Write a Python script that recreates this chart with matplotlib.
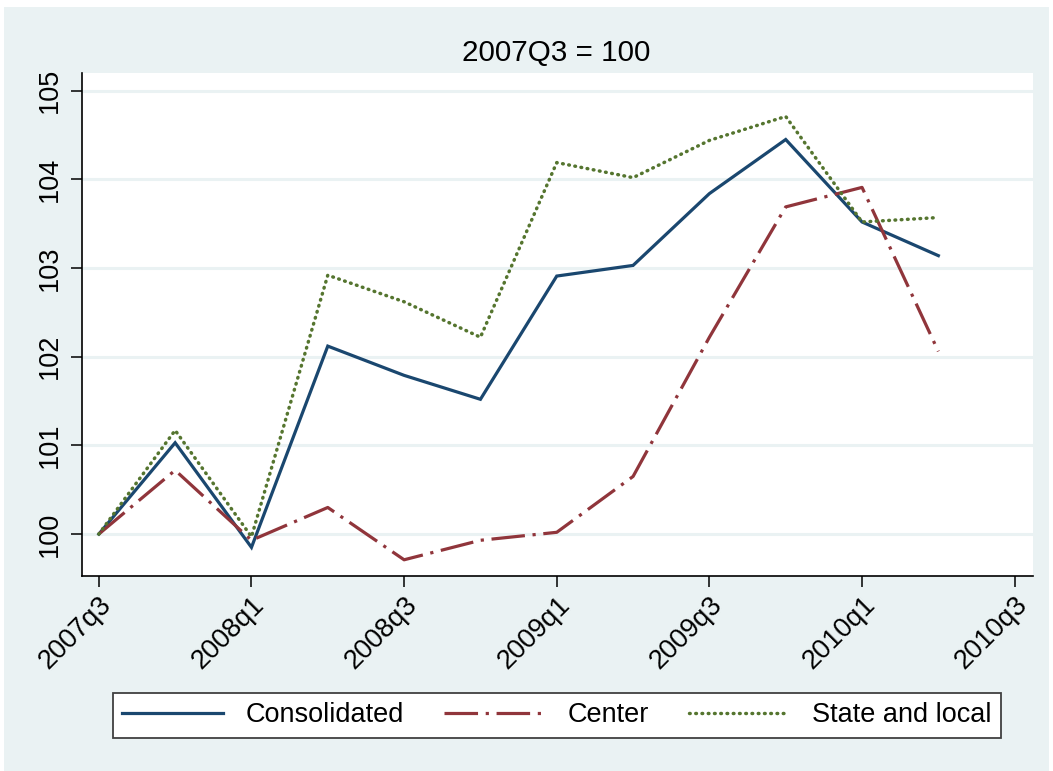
import matplotlib
matplotlib.use("Agg")
import matplotlib.pyplot as plt
from matplotlib.patches import Rectangle

plt.rcParams['font.family'] = ['Liberation Sans', 'DejaVu Sans']

quarters = ['2007q3', '2007q4', '2008q1', '2008q2', '2008q3', '2008q4',
            '2009q1', '2009q2', '2009q3', '2009q4', '2010q1', '2010q2']
tick_labels = ['2007q3', '2008q1', '2008q3', '2009q1', '2009q3', '2010q1', '2010q3']

consolidated = [100.0, 101.03, 99.85, 102.12, 101.79, 101.52,
                102.91, 103.03, 103.84, 104.45, 103.52, 103.14]
center = [100.0, 100.72, 99.93, 100.30, 99.71, 99.93,
          100.02, 100.65, 102.22, 103.69, 103.91, 102.06]
state_local = [100.0, 101.17, 99.97, 102.92, 102.62, 102.22,
               104.19, 104.02, 104.44, 104.71, 103.52, 103.57]

navy = '#1A476F'
maroon = '#90353B'
green = '#55752F'
bg = '#EAF2F3'

fig = plt.figure(figsize=(10.53, 7.71), dpi=100)
fig.patch.set_facecolor('white')
fig.patches.append(Rectangle((0.004, 0.0), 0.992, 0.991, transform=fig.transFigure,
                             facecolor=bg, edgecolor='none', zorder=-10))

ax = fig.add_axes([0.0779, 0.2529, 0.9031, 0.6524])
ax.set_facecolor('white')

x = list(range(len(quarters)))
l1, = ax.plot(x, consolidated, color=navy, lw=2.3, solid_joinstyle='miter', zorder=3)
l2, = ax.plot(x, center, color=maroon, lw=2.3, linestyle=(0, (10.5, 2.4, 1.0, 2.4)), zorder=3)
l3, = ax.plot(x, state_local, color=green, lw=2.5, linestyle=(0, (0.2, 1.6)),
              dash_capstyle='round', zorder=3)

ax.set_xlim(-0.22, 12.24)
ax.set_ylim(99.527, 105.2)

ax.set_xticks(range(0, 13, 2))
ax.set_xticklabels(tick_labels, rotation=45, ha='right', va='top',
                   rotation_mode='anchor', fontsize=19.5)
ax.set_yticks([100, 101, 102, 103, 104, 105])
ax.set_yticklabels(['100', '101', '102', '103', '104', '105'], rotation=90,
                   va='center', fontsize=19.5)

ax.tick_params(axis='both', length=8, width=1.1, color='black', pad=6)
ax.tick_params(axis='x', pad=3)

ax.grid(axis='y', color=bg, lw=2.2, zorder=1)
for s in ['top', 'right']:
    ax.spines[s].set_visible(False)
for s in ['left', 'bottom']:
    ax.spines[s].set_linewidth(1.2)
    ax.spines[s].set_color('black')

fig.text(0.5285, 0.931, '2007Q3 = 100', ha='center', va='center', fontsize=21.3)

leg = fig.legend([l1, l2, l3], ['Consolidated', 'Center', 'State and local'],
                 loc='center', bbox_to_anchor=(0.529, 0.0726), ncol=3,
                 fontsize=19.5, handlelength=3.7, handletextpad=0.85, columnspacing=1.48,
                 fancybox=False, framealpha=1, borderpad=0.35)
leg.get_frame().set_edgecolor('#404040')
leg.get_frame().set_linewidth(1.3)

fig.savefig('out.png', dpi=100, facecolor=fig.get_facecolor())
